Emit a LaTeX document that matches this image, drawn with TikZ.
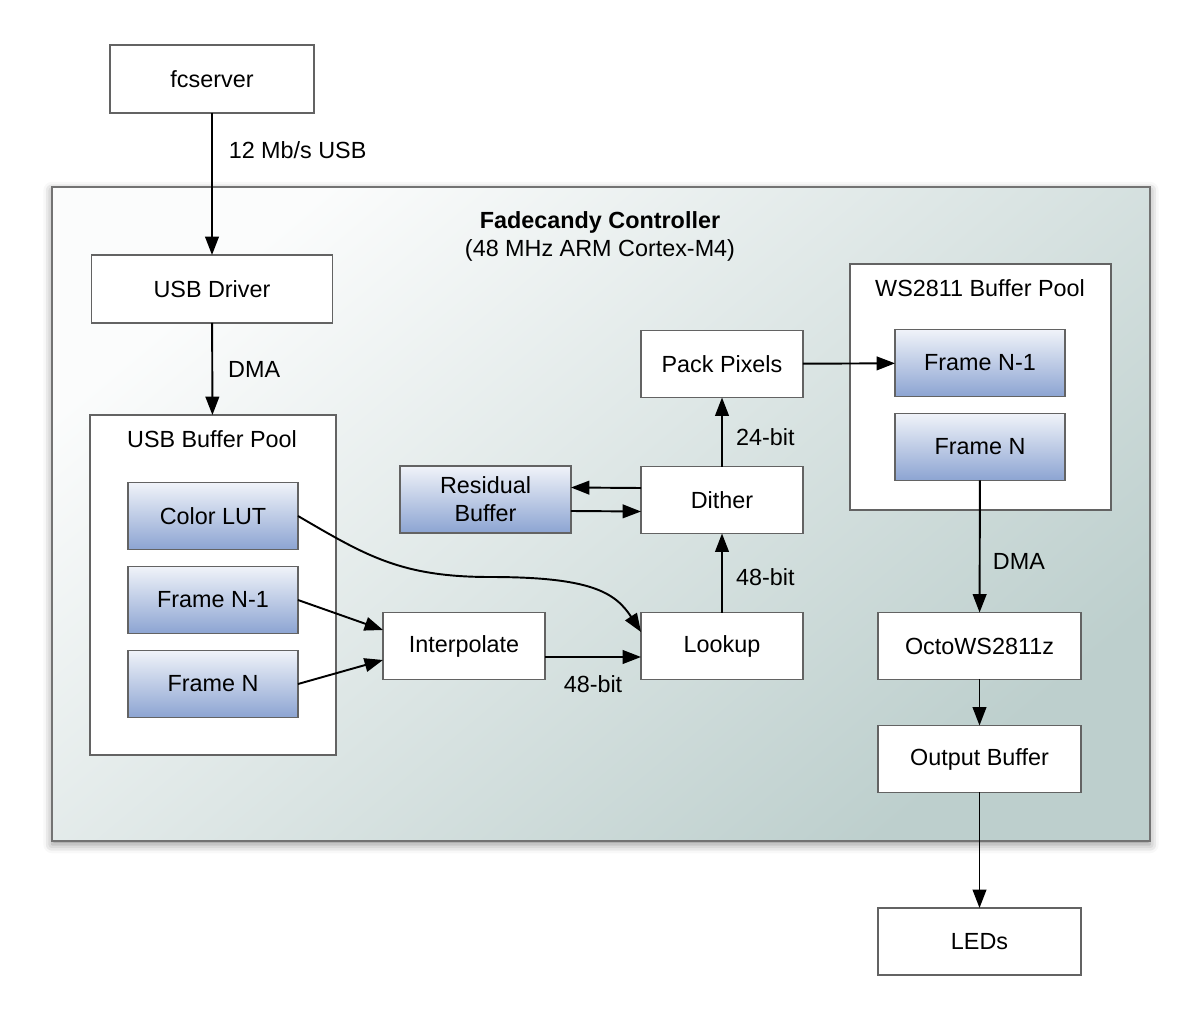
\documentclass[tikz,border=0pt]{standalone}
\usepackage{fontspec}
\setmainfont{Liberation Sans}
\usetikzlibrary{arrows.meta,shadows.blur}
\definecolor{boxline}{HTML}{636363}
\definecolor{bluetop}{HTML}{F0F3F9}
\definecolor{bluebot}{HTML}{8CA4D2}
\definecolor{ctrltop}{HTML}{FBFCFC}
\definecolor{ctrlbot}{HTML}{BDCFCD}
\begin{document}
\begin{tikzpicture}[x=0.02cm, y=-0.02cm,
    font=\fontsize{13.3}{15.9}\selectfont,
    box/.style={draw=boxline, line width=0.75pt, fill=white, inner sep=0pt,
      outer sep=0pt, minimum height=1.34cm, align=center},
    bufbox/.style={box, top color=bluetop, bottom color=bluebot, minimum width=3.4cm},
    pool/.style={box, minimum width=4.92cm, minimum height=6.8cm},
    ctrl/.style={draw=boxline!90, line width=0.8pt, inner sep=0pt,
      minimum width=21.96cm, minimum height=13.08cm,
      top color=ctrltop, bottom color=ctrlbot, shading angle=40,
      blur shadow={shadow xshift=0pt, shadow yshift=-2pt, shadow blur radius=5pt, shadow opacity=45}},
    arr/.style={-{Triangle[length=10.5pt,width=7.8pt]}, line width=1.1pt},
    lbl/.style={inner sep=0pt}]
  \useasboundingbox (0,0) rectangle (1200,1020);
  \node[ctrl] (ctrl) at (601,514) {};
  \node[font=\fontsize{13.3}{15.9}\selectfont\bfseries] (title) at (600,222) {Fadecandy Controller};
  \node (sub) at (600,250) {(48 MHz ARM Cortex-M4)};

  \node[box, minimum width=4.08cm, minimum height=1.36cm] (fcs) at (212,79) {fcserver};
  \node[box, minimum width=4.82cm, minimum height=1.36cm] (drv) at (212,289) {USB Driver};
  \node[pool] (upool) at (213,585) {};
  \node (upooltxt) at (212,439) {USB Buffer Pool};
  \node[bufbox] (lut) at (213,516) {Color LUT};
  \node[bufbox] (uprev) at (213,600) {Frame N-1};
  \node[bufbox] (ucur) at (213,684) {Frame N};

  \node[box, minimum width=3.24cm] (interp) at (464,646) {Interpolate};
  \node[box, minimum width=3.24cm] (lkp) at (722,646) {Lookup};
  \node[box, minimum width=3.24cm] (dith) at (722,500) {Dither};
  \node[box, minimum width=3.24cm] (pack) at (722,364) {Pack Pixels};
  \node[bufbox, minimum width=3.42cm] (resid) at (485.5,499.5) {Residual\\Buffer};

  \node[pool, minimum width=5.22cm, minimum height=4.92cm] (wpool) at (980.5,387) {};
  \node (wpooltxt) at (980,288) {WS2811 Buffer Pool};
  \node[bufbox] (wprev) at (980,363) {Frame N-1};
  \node[bufbox] (wcur) at (980,447) {Frame N};
  \node[box, minimum width=4.06cm] (octo) at (979.5,646) {OctoWS2811z};
  \node[box, minimum width=4.06cm] (outb) at (979.5,759) {Output Buffer};
  \node[box, minimum width=4.06cm] (leds) at (979.5,941.5) {LEDs};

  \coordinate (lutmid) at (490,577);
  \draw[arr] (fcs) edge node[lbl, right, pos=.26, xshift=9pt] {12 Mb/s USB} (drv)
             (drv) edge node[lbl, right, xshift=8.5pt] {DMA} (upool)
             (lkp) edge node[lbl, right, pos=.45, xshift=7.5pt] {48-bit} (dith)
             (dith) edge node[lbl, right, pos=.43, xshift=7.5pt] {24-bit} (pack)
             (pack) edge (wprev)
             (wcur) edge node[lbl, right, pos=.61, xshift=7pt] {DMA} (octo)
             (octo) edge (outb)
             (outb) edge (leds);
  \draw[arr] (uprev.east) -- ([yshift=0.32cm]interp.west);
  \draw[arr] (ucur.east) -- ([yshift=-0.28cm]interp.west);
  \draw[arr] ([yshift=-0.22cm]interp.east) -- node[lbl, below, yshift=-10pt] {48-bit} ([yshift=-0.22cm]lkp.west);
  \draw[arr] ([yshift=0.24cm]dith.west) -- ([yshift=0.24cm]resid.east);
  \draw[arr] ([yshift=-0.23cm]resid.east) -- ([yshift=-0.23cm]dith.west);
  \draw[arr] (lut.east) .. controls (365,555) and (400,577) .. (lutmid)
             .. controls (590,577) and (615,592) .. ([yshift=0.28cm]lkp.west);
\end{tikzpicture}
\end{document}
